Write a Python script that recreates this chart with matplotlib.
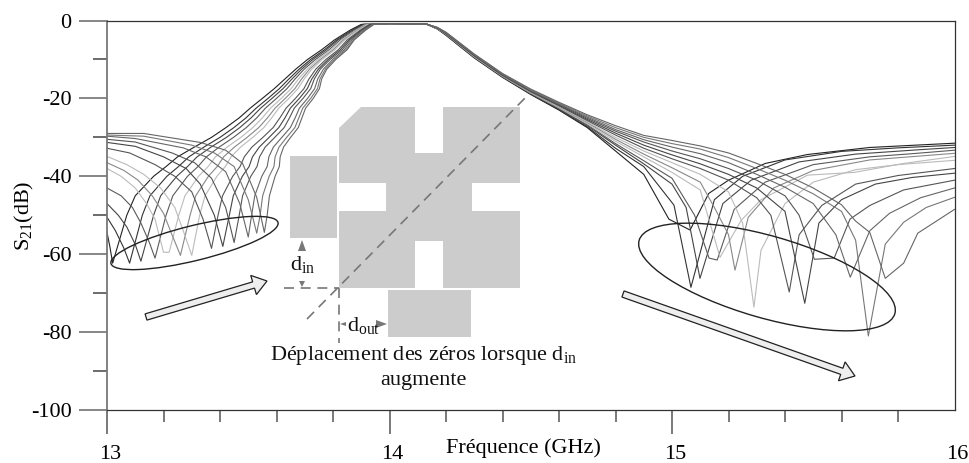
import numpy as np
import matplotlib
matplotlib.use('Agg')
import matplotlib.pyplot as plt
from matplotlib.patches import Ellipse, Polygon, Rectangle, FancyArrow
from matplotlib.transforms import ScaledTranslation

plt.rcParams['font.family'] = ['Liberation Serif', 'DejaVu Serif']
plt.rcParams['mathtext.fontset'] = 'custom'
plt.rcParams['mathtext.rm'] = 'Liberation Serif'
plt.rcParams['mathtext.default'] = 'rm'

# 13 curves, order = zero moving up in frequency
colors = ['#222222', '#333333', '#444444', '#5a5a5a', '#bbbbbb', '#888888', '#bbbbbb',
          '#555555', '#444444', '#555555', '#666666', '#777777', '#666666']

# low side: plateau and arch down to the first zero
left_f = [
    [13, 13.01, 13.02],
    [13, 13.03, 13.06, 13.08],
    [13, 13.04, 13.07, 13.10, 13.12],
    [13, 13.05, 13.09, 13.12, 13.15, 13.17],
    [13, 13.05, 13.10, 13.14, 13.17, 13.20, 13.22],
    [13, 13.06, 13.11, 13.16, 13.20, 13.23, 13.26],
    [13, 13.07, 13.13, 13.19, 13.24, 13.27, 13.30],
    [13, 13.08, 13.17, 13.24, 13.30, 13.34, 13.37],
    [13, 13.10, 13.20, 13.28, 13.33, 13.38, 13.41],
    [13, 13.10, 13.23, 13.31, 13.37, 13.42, 13.45],
    [13, 13.10, 13.27, 13.35, 13.42, 13.47, 13.50],
    [13, 13.13, 13.30, 13.38, 13.45, 13.50, 13.53],
    [13, 13.13, 13.33, 13.42, 13.48, 13.53, 13.557],
]
left_db = [
    [-54.4, -58, -62.3],
    [-50.5, -54, -58.5, -62.3],
    [-47, -50, -53, -57.5, -61.8],
    [-43, -45, -48, -52, -57, -61],
    [-38, -40, -43, -47, -51, -59.5, -59.5],
    [-36.5, -38.5, -41, -45, -49.5, -55, -60.3],
    [-34.9, -37, -39.5, -43, -48, -54, -60.3],
    [-32.8, -34, -37, -40, -44, -51, -58.5],
    [-31.3, -32.3, -35, -38, -42, -50, -58],
    [-30.5, -31.2, -34, -36.5, -40.5, -48, -57],
    [-29.7, -30.3, -32.7, -35, -38.8, -47, -55.6],
    [-29.4, -29.7, -32, -34, -37.5, -46, -54.6],
    [-29, -29, -31.3, -33.3, -36.7, -45.4, -54.4],
]

# rising skirt: frequency of each curve at fixed levels
rise_db = [-50, -45, -40, -37.5, -35, -32.5, -30, -27.5, -25, -22.5, -20, -17.5, -15,
           -12.5, -10, -7.5, -5, -2.5, -1]
rise_f = [
    [13.07, 13.125, 13.165, 13.209, 13.254, 13.294, 13.328, 13.393, 13.433, 13.468, 13.512, 13.542, 13.567],
    [13.10, 13.152, 13.19, 13.233, 13.276, 13.314, 13.347, 13.409, 13.447, 13.48, 13.523, 13.551, 13.575],
    [13.165, 13.212, 13.247, 13.285, 13.324, 13.359, 13.389, 13.445, 13.479, 13.509, 13.548, 13.574, 13.595],
    [13.209, 13.253, 13.285, 13.322, 13.358, 13.39, 13.419, 13.471, 13.503, 13.531, 13.567, 13.591, 13.61],
    [13.25, 13.29, 13.319, 13.352, 13.384, 13.413, 13.439, 13.486, 13.515, 13.54, 13.573, 13.595, 13.613],
    [13.309, 13.343, 13.368, 13.397, 13.425, 13.451, 13.473, 13.513, 13.539, 13.56, 13.589, 13.609, 13.625],
    [13.37, 13.40, 13.423, 13.448, 13.474, 13.496, 13.516, 13.552, 13.574, 13.594, 13.619, 13.636, 13.65],
    [13.421, 13.449, 13.47, 13.493, 13.516, 13.537, 13.555, 13.588, 13.608, 13.627, 13.649, 13.665, 13.677],
    [13.468, 13.492, 13.51, 13.53, 13.55, 13.568, 13.583, 13.612, 13.63, 13.646, 13.666, 13.679, 13.69],
    [13.507, 13.528, 13.544, 13.561, 13.579, 13.595, 13.608, 13.634, 13.649, 13.663, 13.681, 13.693, 13.703],
    [13.55, 13.57, 13.584, 13.6, 13.617, 13.631, 13.644, 13.667, 13.681, 13.694, 13.71, 13.721, 13.73],
    [13.592, 13.61, 13.623, 13.637, 13.652, 13.665, 13.676, 13.697, 13.709, 13.721, 13.735, 13.745, 13.752],
    [13.63, 13.644, 13.655, 13.666, 13.678, 13.689, 13.698, 13.715, 13.725, 13.734, 13.746, 13.754, 13.76],
    [13.668, 13.68, 13.689, 13.698, 13.709, 13.717, 13.725, 13.739, 13.748, 13.755, 13.766, 13.773, 13.778],
    [13.71, 13.721, 13.729, 13.738, 13.747, 13.755, 13.762, 13.775, 13.783, 13.79, 13.799, 13.805, 13.81],
    [13.76, 13.77, 13.777, 13.786, 13.793, 13.801, 13.807, 13.819, 13.826, 13.833, 13.84, 13.846, 13.85],
    [13.805, 13.813, 13.818, 13.825, 13.831, 13.837, 13.841, 13.85, 13.856, 13.861, 13.867, 13.872, 13.875],
    [13.86, 13.866, 13.87, 13.876, 13.881, 13.885, 13.888, 13.896, 13.90, 13.904, 13.909, 13.913, 13.915],
    [13.90, 13.905, 13.909, 13.913, 13.917, 13.92, 13.923, 13.929, 13.933, 13.936, 13.94, 13.943, 13.945],
]

# passband and upper skirt, same grid for all
band_f = [14.0, 14.13, 14.17, 14.2, 14.3, 14.4, 14.5, 14.6]
band_db = [
    [-0.8] * 13,
    [-0.9] * 13,
    [-2.2, -2.2, -2.1, -2.1, -2.1, -2.0, -2.0, -2.0, -1.9, -1.9, -1.8, -1.8, -1.8],
    [-3.8, -3.7, -3.7, -3.6, -3.5, -3.5, -3.4, -3.4, -3.3, -3.2, -3.2, -3.1, -3.0],
    [-9.6, -9.5, -9.5, -9.4, -9.3, -9.2, -9.2, -9.1, -9.0, -8.9, -8.8, -8.7, -8.6],
    [-14.6, -14.5, -14.4, -14.4, -14.3, -14.2, -14.1, -14.1, -14.0, -13.9, -13.8, -13.7, -13.6],
    [-19, -18.9, -18.8, -18.7, -18.6, -18.5, -18.4, -18.3, -18.1, -18, -17.9, -17.8, -17.6],
    [-23, -22.9, -22.7, -22.5, -22.4, -22.2, -22.1, -21.9, -21.7, -21.5, -21.4, -21.2, -21],
]

# falling skirt, second zero and plateau up to 16 GHz
right_f = [
    [14.7, 14.8, 14.9, 14.989, 15.064, 15.13, 15.2, 15.33, 15.48, 15.7, 16],
    [14.7, 14.8, 14.9, 15.007, 15.067, 15.15, 15.25, 15.4, 15.6, 15.8, 16],
    [14.7, 14.8, 14.9, 15.0, 15.05, 15.099, 15.18, 15.28, 15.45, 15.65, 15.85, 16],
    [14.7, 14.8, 14.9, 15.0, 15.08, 15.131, 15.16, 15.22, 15.33, 15.5, 15.7, 15.85, 16],
    [14.7, 14.8, 14.9, 15.0, 15.1, 15.17, 15.245, 15.315, 15.48, 15.645, 15.82, 16],
    [14.7, 14.8, 14.9, 15.0, 15.1, 15.15, 15.2, 15.223, 15.27, 15.36, 15.5, 15.7, 16],
    [14.7, 14.8, 14.9, 15.0, 15.1, 15.2, 15.25, 15.29, 15.315, 15.4, 15.5, 15.65, 15.8, 16],
    [14.7, 14.8, 14.9, 15.0, 15.1, 15.2, 15.3, 15.35, 15.415, 15.45, 15.53, 15.65, 15.8, 16],
    [14.7, 14.8, 14.9, 15.0, 15.1, 15.2, 15.3, 15.4, 15.47, 15.52, 15.6, 15.72, 15.85, 16],
    [14.7, 14.8, 14.9, 15.0, 15.1, 15.2, 15.3, 15.4, 15.45, 15.504, 15.574, 15.63, 15.7, 15.82, 16],
    [14.7, 14.8, 14.9, 15.0, 15.1, 15.2, 15.3, 15.4, 15.5, 15.58, 15.631, 15.7, 15.77, 15.88, 16],
    [14.7, 14.8, 14.9, 15.0, 15.1, 15.2, 15.3, 15.4, 15.5, 15.6, 15.65, 15.695, 15.755, 15.82, 15.9, 16],
    [14.7, 14.8, 14.9, 15.0, 15.1, 15.2, 15.3, 15.4, 15.5, 15.6, 15.65, 15.7, 15.755, 15.82, 15.87, 16],
]
right_db = [
    [-27.5, -33.5, -39.5, -51, -53.8, -44.4, -41, -36.7, -34.4, -32.6, -31.5],
    [-27.3, -32.8, -37.5, -47.4, -68.5, -46, -40, -35.8, -33.6, -32.7, -32],
    [-27, -32, -36.8, -42, -48, -66.2, -47, -41, -36.3, -34.3, -33.3, -32.6],
    [-26.8, -31.6, -36, -40.5, -50, -61, -61.5, -48.5, -41.5, -37, -35, -34.2, -33.3],
    [-26.5, -31, -35, -39, -43.5, -60.8, -51.3, -46, -39.7, -39, -36.7, -34.9],
    [-26.2, -30.5, -34.3, -37.8, -41.5, -48, -55, -64.1, -50.5, -43, -38.5, -35.8, -34.1],
    [-26, -30, -33.5, -36.5, -39.5, -44, -52, -73.6, -59, -47, -41.5, -38.3, -37, -35.9],
    [-25.7, -29.4, -32.8, -35.5, -38, -41, -45.5, -50, -69.7, -55, -47.5, -42, -39.8, -38],
    [-25.4, -28.9, -32, -34.5, -36.8, -39.5, -43, -49, -72.6, -52, -46, -42, -40.3, -39.2],
    [-25.1, -28.4, -31.2, -33.5, -35.5, -38, -41, -45, -50, -61.3, -61, -51, -47.5, -43.5, -41],
    [-24.8, -28, -30.6, -32.5, -34.2, -36.5, -39.5, -42.8, -47, -55, -65.9, -54, -49.5, -45.5, -43],
    [-24.5, -27.5, -30, -31.6, -33, -35.2, -38, -41, -44.5, -49, -56.4, -81, -57.4, -51.8, -48, -45.4],
    [-24.2, -27, -29.5, -30.8, -32.2, -34, -36.7, -39.5, -43, -47.3, -51.5, -54.4, -66.2, -62.3, -54.6, -48.5],
]

major_x = [13, 14, 15, 16]
minor_x = [13.2, 13.4, 13.6, 13.8, 14.2, 14.4, 14.6, 14.8, 15.2, 15.4, 15.6, 15.8]
major_y = [0, -20, -40, -60, -80, -100]
minor_y = [-10, -30, -50, -70, -90]

W, H = 970, 463
fig = plt.figure(figsize=(W / 100, H / 100), dpi=100)
ax = fig.add_axes([107 / W, 1 - 410 / H, 847.5 / W, 389.5 / H])

rise_f = np.array(rise_f)
band_db = np.array(band_db)
for k in range(13):
    f = left_f[k] + list(rise_f[:, k]) + band_f + right_f[k]
    db = left_db[k] + rise_db + list(band_db[:, k]) + right_db[k]
    ax.plot(f, db, color=colors[k], lw=0.8)

ax.set_xlim(13, 16)
ax.set_ylim(-100, 0)
ax.set_xticks(major_x)
ax.set_xticks(minor_x, minor=True)
ax.set_yticks(major_y)
ax.set_yticks(minor_y, minor=True)
ax.set_yticklabels([str(v) for v in major_y], fontsize=16)
ax.set_xticklabels([str(v) for v in major_x], fontsize=16)
ax.tick_params(axis='y', which='major', length=20, width=1.1, color='#666666', pad=5.5)
ax.tick_params(axis='y', which='minor', length=10, width=1.1, color='#444444')
ax.tick_params(axis='x', which='major', length=17, width=1.1, color='#555555', pad=8.5)
ax.tick_params(axis='x', which='minor', length=8.5, width=1.1, color='#555555')
ax.xaxis.get_major_ticks()[-1].tick1line.set_visible(False)
offset = ScaledTranslation(3 / 100, 0, fig.dpi_scale_trans)
for lab in ax.get_xticklabels():
    lab.set_transform(lab.get_transform() + offset)
for s in ['top', 'right', 'bottom']:
    ax.spines[s].set_color('#333333')
    ax.spines[s].set_linewidth(0.9)
ax.spines['left'].set_color('#777777')
ax.spines['left'].set_linewidth(1.3)
ax.set_xlabel('Fréquence (GHz)', fontsize=16)
ax.xaxis.set_label_coords(0.491, -0.072)
ax.set_ylabel('S$_{21}$(dB)', fontsize=16)
ax.yaxis.set_label_coords(-0.084, 0.498)

# overlay in pixels for the drawing on top of the plot
ov = fig.add_axes([0, 0, 1, 1])
ov.set_xlim(0, W)
ov.set_ylim(H, 0)
ov.axis('off')
ov.patch.set_alpha(0)

gray = '#cccccc'
ov.add_patch(Rectangle((290, 156), 47, 82, fc=gray, ec='none'))
ov.add_patch(Rectangle((388, 290), 83, 47, fc=gray, ec='none'))
ov.add_patch(Polygon([(361, 107), (415, 107), (415, 153), (443, 153), (443, 107), (520, 107),
                      (520, 183), (472, 183), (472, 211), (520, 211), (520, 288), (443, 288),
                      (443, 241), (415, 241), (415, 288), (339, 288), (339, 211), (386, 211),
                      (386, 183), (339, 183), (339, 128)], fc=gray, ec='none'))

dash = dict(color='#777777', lw=1.2, ls=(0, (6, 4)))
ov.plot([307, 528], [319, 95], **dash)
ov.plot([284, 339], [288, 288], **dash)
ov.plot([339, 339], [288, 343], **dash)

tri = dict(fc='#777777', ec='none')
ov.add_patch(Polygon([(302, 240), (298, 251), (306, 251)], **tri))
ov.add_patch(Polygon([(302, 287), (299, 281), (305, 281)], **tri))
ov.add_patch(Polygon([(387, 324), (376, 320), (376, 328)], **tri))
ov.add_patch(Polygon([(340, 324), (346, 322), (346, 326)], **tri))

ov.text(290, 270, 'd$_{in}$', fontsize=16, color='#111111')
ov.text(347, 331, 'd$_{out}$', fontsize=16, color='#111111')
ov.text(423, 360, 'Déplacement des zéros lorsque d$_{in}$', fontsize=16, ha='center', color='#111111')
ov.text(423, 385, 'augmente', fontsize=16, ha='center', color='#111111')

ov.add_patch(Ellipse((194.5, 243), 172, 35, angle=-13.8, fc='none', ec='#222222', lw=1))
ov.add_patch(Ellipse((767, 277), 266, 82, angle=16, fc='none', ec='#222222', lw=1))

arrow = dict(width=6.5, head_width=20, head_length=14, length_includes_head=True,
             fc='#eeeeee', ec='#222222', lw=0.9)
ov.add_patch(FancyArrow(146, 317, 121, -36, **arrow))
ov.add_patch(FancyArrow(623, 294, 232, 82, **arrow))

fig.savefig('out.png', dpi=100)
